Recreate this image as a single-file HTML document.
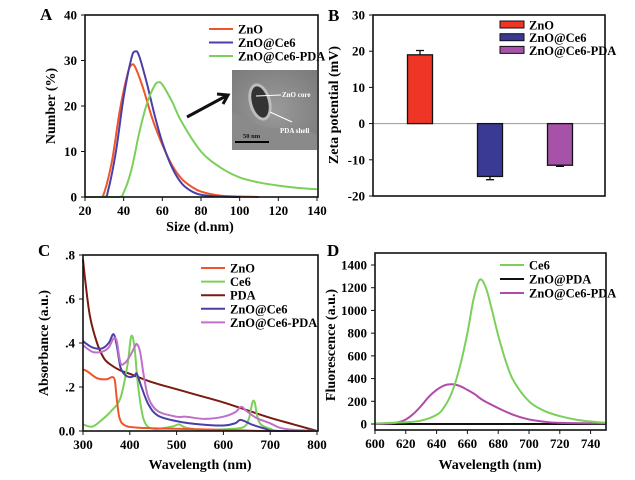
<!DOCTYPE html>
<html><head><meta charset="utf-8"><style>
html,body{margin:0;padding:0;background:#fff;}
svg{display:block;font-family:"Liberation Serif",serif;font-weight:bold;}
</style></head><body>
<svg id="fig" width="635" height="480" viewBox="0 0 635 480">
<defs>
<radialGradient id="tem" cx="50%" cy="50%" r="70%"><stop offset="0" stop-color="#9a9a9a"/><stop offset="1" stop-color="#7a7a7a"/></radialGradient>
</defs>
<text x="40" y="20" font-size="17">A</text>
<text x="328" y="21" font-size="17">B</text>
<text x="38" y="256" font-size="17">C</text>
<text x="327" y="256" font-size="17">D</text>
<g id="gA"></g>
<g id="gB"></g>
<g id="gC"></g>
<g id="gD"></g>
</svg>
<script>
// ---- Panel A data ----
const aZnOx=[20,28,30,34,38,42,44,46,50,55,60,65,70,75,80,90,100,110];
const aZnOy=[0,0,1,8,19,27,29,28.5,24,17,11.5,7,4,2.3,1.2,0.3,0.1,0];
const aCe6x=[20,30,32,36,40,44,46,48,52,56,60,65,70,75,80,90,100];
const aCe6y=[0,0,1.5,10,22,30.5,32,31,25,18,12,6.5,3,1.3,0.5,0.1,0];
const aPDAx=[20,37,40,44,48,52,56,58,60,65,70,80,90,100,110,120,130,140];
const aPDAy=[0,0,1,6,14,20.5,24.5,25.2,24.7,21,16.5,10,6.5,4.3,3.2,2.5,2,1.7];
const aXTicks=[20,40,60,80,100,120,140];
const aYTicks=[0,10,20,30,40];
// ---- Panel B data ----
const bCats=["ZnO","ZnO@Ce6","ZnO@Ce6-PDA"];
const bVals=[19,-14.6,-11.5];
const bErrs=[1.2,0.9,0.3];
const bYTicks=[-20,-10,0,10,20,30];
// ---- Panel C data ----
const cZnOx=[300,310,330,350,362,368,372,378,390,420,500,600,700,800];
const cZnOy=[.28,.27,.24,.235,.245,.23,.15,.06,.025,.015,.01,.005,0,0];
const cCe6x=[300,320,340,360,380,395,403,410,418,430,450,490,505,520,560,620,645,655,662,667,672,680,700,720,800];
const cCe6y=[.03,.02,.05,.09,.15,.3,.43,.38,.2,.05,.01,.02,.03,.015,.005,.01,.02,.06,.13,.13,.07,.03,.01,0,0];
const cPDAx=[300,305,315,330,345,360,380,400,450,500,550,600,650,700,750,800];
const cPDAy=[.78,.68,.52,.40,.33,.30,.275,.26,.22,.19,.16,.13,.095,.06,.03,0];
const cZCx=[300,305,320,340,355,365,372,380,390,400,410,415,425,440,460,500,550,600,625,635,645,660,690,710,800];
const cZCy=[.41,.40,.38,.375,.40,.44,.39,.29,.255,.245,.25,.26,.20,.12,.07,.045,.03,.025,.035,.05,.045,.03,.01,0,0];
const cZCPx=[300,320,340,355,365,372,380,390,400,410,415,422,430,440,460,500,520,560,600,625,638,650,670,700,720,750,800];
const cZCPy=[.39,.36,.36,.38,.42,.41,.31,.31,.34,.38,.395,.36,.25,.15,.09,.065,.065,.055,.065,.085,.11,.09,.06,.035,.015,.005,0];
const cXTicks=[300,400,500,600,700,800];
const cYTicks=[0,.2,.4,.6,.8];
const cYLabels=["0.0",".2",".4",".6",".8"];
// ---- Panel D data ----
const dCe6x=[600,620,630,640,645,650,655,660,664,668,672,676,680,685,690,700,710,720,730,740,750];
const dCe6y=[5,15,30,80,150,280,500,800,1100,1270,1200,1000,780,550,380,200,115,70,40,22,10];
const dZPx=[600,650,700,750];
const dZPy=[0,0,0,0];
const dZCPx=[600,610,615,620,625,630,635,640,645,650,655,660,665,670,680,690,700,710,720,750];
const dZCPy=[0,5,15,40,90,160,240,300,340,350,335,300,260,210,140,80,40,20,10,5];
const dXTicks=[600,620,640,660,680,700,720,740];
const dYTicks=[0,200,400,600,800,1000,1200,1400];

const NS="http://www.w3.org/2000/svg";
function mk(parent,tag,attrs){const e=document.createElementNS(NS,tag);for(const k in attrs)e.setAttribute(k,attrs[k]);parent.appendChild(e);return e;}
function lin(d0,d1,r0,r1){return v=>r0+(v-d0)*(r1-r0)/(d1-d0);}
function smooth(xs,ys,sx,sy){
  const base=sy(0);
  const p=xs.map((x,i)=>[sx(x),sy(ys[i])]);
  let d="M"+p[0][0].toFixed(2)+","+p[0][1].toFixed(2);
  for(let i=0;i<p.length-1;i++){
    const p0=p[i-1]||p[i],p1=p[i],p2=p[i+1],p3=p[i+2]||p2;
    const c1=[p1[0]+(p2[0]-p0[0])/6,Math.min(base,p1[1]+(p2[1]-p0[1])/6)];
    const c2=[p2[0]-(p3[0]-p1[0])/6,Math.min(base,p2[1]-(p3[1]-p1[1])/6)];
    d+="C"+c1[0].toFixed(2)+","+c1[1].toFixed(2)+" "+c2[0].toFixed(2)+","+c2[1].toFixed(2)+" "+p2[0].toFixed(2)+","+p2[1].toFixed(2);
  }
  return d;
}
function series(g,name,xs,ys,sx,sy,color,w){
  const el=mk(g,"path",{d:smooth(xs,ys,sx,sy),fill:"none",stroke:color,"stroke-width":w||2});
  
  
}
function frame(g,x0,y0,x1,y1){
  const el=mk(g,"rect",{x:x0,y:y0,width:x1-x0,height:y1-y0,fill:"none",stroke:"#111","stroke-width":1.6});
  
  
}
function xticks(g,ticks,labels,sx,y,name){
  ticks.forEach((t,i)=>{
    const tk=mk(g,"line",{x1:sx(t),x2:sx(t),y1:y,y2:y+4,stroke:"#111","stroke-width":1});
    
    
    const tx=mk(g,"text",{x:sx(t),y:y+18,"font-size":13,"text-anchor":"middle"});
    tx.textContent=labels[i];
    
    
  });
}
function yticks(g,ticks,labels,sy,x,name){
  ticks.forEach((t,i)=>{
    const tk=mk(g,"line",{x1:x-4,x2:x,y1:sy(t),y2:sy(t),stroke:"#111","stroke-width":1});
    
    
    const tx=mk(g,"text",{x:x-8,y:sy(t)+4.5,"font-size":13,"text-anchor":"end"});
    tx.textContent=labels[i];
    
    
  });
}
function title(g,text,x,y,rot,name){
  const t=mk(g,"text",{x:x,y:y,"font-size":14,"text-anchor":"middle",transform:rot?`rotate(-90 ${x} ${y})`:""});
  t.textContent=text;
  
  
}
function legend(g,items,x,y0,dy,bar){
  items.forEach((it,i)=>{
    const y=y0+i*dy;
    let sw;
    if(bar) sw=mk(g,"rect",{x:x,y:y-4,width:24,height:7,fill:it[1],stroke:"#111","stroke-width":1});
    else sw=mk(g,"line",{x1:x,x2:x+24,y1:y,y2:y,stroke:it[1],"stroke-width":2});
    
    
    const t=mk(g,"text",{x:x+29,y:y+4.5,"font-size":12.5});
    t.textContent=it[0];
    
    
  });
}
// Panel A
(function(){
  const g=document.getElementById("gA");
  const sx=lin(20,140,85,317), sy=lin(0,40,197,15);
  series(g,"series-zno",aZnOx,aZnOy,sx,sy,"#f0552a");
  series(g,"series-zno-ce6",aCe6x,aCe6y,sx,sy,"#4a3fa8");
  series(g,"series-zno-ce6-pda",aPDAx,aPDAy,sx,sy,"#7cd05a");
  frame(g,85,15,318,197);
  xticks(g,aXTicks,aXTicks.map(String),sx,197,"x-axis");
  yticks(g,aYTicks,aYTicks.map(String),sy,85,"y-axis");
  title(g,"Number (%)",55,106,true,"y-axis-title");
  title(g,"Size (d.nm)",200,231,false,"x-axis-title");
  legend(g,[["ZnO","#f0552a"],["ZnO@Ce6","#4a3fa8"],["ZnO@Ce6-PDA","#7cd05a"]],209,29,13.5,false);
  const ins=mk(g,"g",{});
  
  
  mk(ins,"rect",{x:232,y:70,width:85,height:80,fill:"url(#tem)"});
  mk(ins,"path",{d:"M232,112 Q260,130 280,128 Q300,125 317,135 L317,150 L232,150Z",fill:"#8a8a8a"});
  mk(ins,"ellipse",{cx:260,cy:102,rx:11,ry:19,fill:"#bdbdbd",transform:"rotate(-15 260 102)"});
  mk(ins,"ellipse",{cx:260,cy:102,rx:8,ry:16,fill:"#333",transform:"rotate(-15 260 102)"});
  mk(ins,"line",{x1:256,y1:96,x2:281,y2:95,stroke:"#fff","stroke-width":1});
  mk(ins,"line",{x1:270,y1:112,x2:292,y2:122,stroke:"#fff","stroke-width":1});
  const t1=mk(ins,"text",{x:282,y:97,"font-size":7,fill:"#fff"});t1.textContent="ZnO core";
  const t2=mk(ins,"text",{x:280,y:133,"font-size":7,fill:"#fff"});t2.textContent="PDA shell";
  const t3=mk(ins,"text",{x:243,y:138,"font-size":6.5,fill:"#111"});t3.textContent="50 nm";
  mk(ins,"line",{x1:235,y1:142,x2:269,y2:142,stroke:"#000","stroke-width":2});
  const ar=mk(g,"path",{d:"M187,117 L226,96 M217,94 L228,95 L223,104",fill:"none",stroke:"#111","stroke-width":3});
  
  
})();
// Panel B
(function(){
  const g=document.getElementById("gB");
  const sy=lin(-20,30,196,15);
  const centers=[420,490,560], bw=25, colors=["#ee3526","#3a3a95","#a552a8"];
  const zl=mk(g,"line",{x1:373,x2:605,y1:sy(0),y2:sy(0),stroke:"#999","stroke-width":1});
  
  
  bVals.forEach((v,i)=>{
    const y0=Math.min(sy(v),sy(0)),h=Math.abs(sy(v)-sy(0));
    const b=mk(g,"rect",{x:centers[i]-bw/2,y:y0,width:bw,height:h,fill:colors[i],stroke:"#111","stroke-width":1.3});
    
    
    const e=v+(v>=0?bErrs[i]:-bErrs[i]);
    const eb=mk(g,"path",{d:`M${centers[i]},${sy(v)} L${centers[i]},${sy(e)} M${centers[i]-4},${sy(e)} L${centers[i]+4},${sy(e)}`,stroke:"#111","stroke-width":1.3,fill:"none"});
    
    
  });
  frame(g,373,15,605,196);
  yticks(g,bYTicks,bYTicks.map(String),sy,373,"y-axis");
  title(g,"Zeta potential (mV)",338,105,true,"y-axis-title");
  legend(g,bCats.map((c,i)=>[c,colors[i]]),500,25,12.7,true);
})();
// Panel C
(function(){
  const g=document.getElementById("gC");
  const sx=lin(300,800,83,317), sy=lin(0,.8,431,255);
  series(g,"series-pda",cPDAx,cPDAy,sx,sy,"#7a1a10");
  series(g,"series-ce6",cCe6x,cCe6y,sx,sy,"#7cd05a");
  series(g,"series-zno",cZnOx,cZnOy,sx,sy,"#f0552a");
  series(g,"series-zno-ce6",cZCx,cZCy,sx,sy,"#4a3fa8");
  series(g,"series-zno-ce6-pda",cZCPx,cZCPy,sx,sy,"#c070c8");
  frame(g,83,255,318,431);
  xticks(g,cXTicks,cXTicks.map(String),sx,431,"x-axis");
  yticks(g,cYTicks,cYLabels,sy,83,"y-axis");
  title(g,"Absorbance (a.u.)",48,343,true,"y-axis-title");
  title(g,"Wavelength (nm)",200,469,false,"x-axis-title");
  legend(g,[["ZnO","#f0552a"],["Ce6","#7cd05a"],["PDA","#7a1a10"],["ZnO@Ce6","#4a3fa8"],["ZnO@Ce6-PDA","#c070c8"]],201,268,13.6,false);
})();
// Panel D
(function(){
  const g=document.getElementById("gD");
  const sx=lin(600,750,375,606), sy=lin(0,1400,424,265);
  series(g,"series-zno-pda",dZPx,dZPy,sx,sy,"#111");
  series(g,"series-zno-ce6-pda",dZCPx,dZCPy,sx,sy,"#b04aa8");
  series(g,"series-ce6",dCe6x,dCe6y,sx,sy,"#7cd05a");
  frame(g,375,253,606,430);
  xticks(g,dXTicks,dXTicks.map(String),sx,430,"x-axis");
  yticks(g,dYTicks,dYTicks.map(String),sy,375,"y-axis");
  title(g,"Fluorescence (a.u.)",335,345,true,"y-axis-title");
  title(g,"Wavelength (nm)",490,469,false,"x-axis-title");
  legend(g,[["Ce6","#7cd05a"],["ZnO@PDA","#111"],["ZnO@Ce6-PDA","#b04aa8"]],500,265,14,false);
})();
</script>
</body></html>
